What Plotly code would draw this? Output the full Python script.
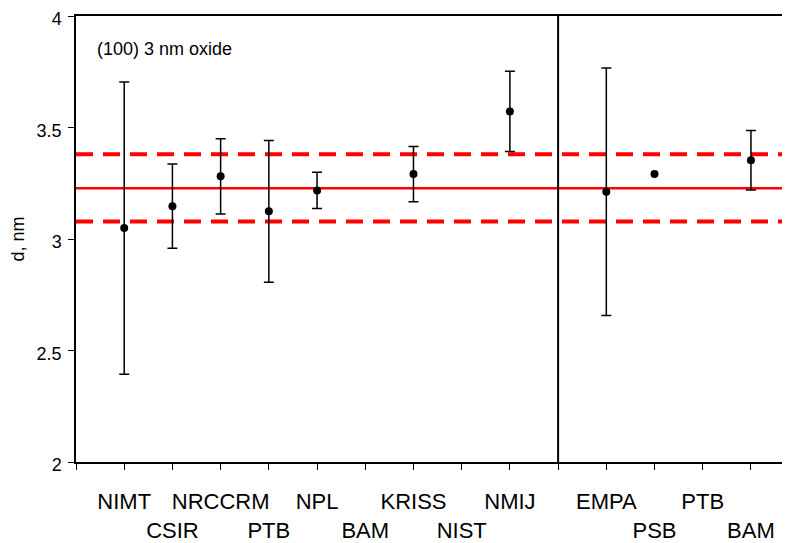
import plotly.graph_objects as go

# ---- data ----
labs = ["NIMT", "CSIR", "NRCCRM", "PTB", "NPL", "BAM", "KRISS", "NIST", "NMIJ",
        "EMPA", "PSB", "PTB", "BAM"]
lab_pos = [1, 2, 3, 4, 5, 6, 7, 8, 9, 11, 12, 13, 14]
lab_row = [1, 2, 1, 2, 1, 2, 1, 2, 1, 1, 2, 1, 2]

pt_pos = [1, 2, 3, 4, 5, 7, 9, 11, 12, 14]
d_vals = [3.049, 3.147, 3.281, 3.124, 3.218, 3.291, 3.572, 3.212, 3.291, 3.353]
d_err = [0.655, 0.189, 0.169, 0.318, 0.081, 0.124, 0.180, 0.555, None, 0.133]

ref_mean = 3.228
ref_upper = 3.380
ref_lower = 3.079
divider_pos = 10

y_ticks = [2, 2.5, 3, 3.5, 4]
y_tick_text = ["2", "2.5", "3", "3.5", "4"]
note_text = "(100) 3 nm oxide"
y_title = "d, nm"

FONT = "Liberation Sans, Arial, sans-serif"

tickvals = list(range(0, 15))
ticktext = []
for v in tickvals:
    if v in lab_pos:
        i = lab_pos.index(v)
        ticktext.append(labs[i] + "<br> " if lab_row[i] == 1 else " <br>" + labs[i])
    else:
        ticktext.append("")

fig = go.Figure()

# reference lines
for yv, dash, w in [(ref_upper, "17px,10px", 4), (ref_lower, "17px,10px", 4), (ref_mean, "solid", 2.5)]:
    fig.add_shape(type="line", xref="x domain", yref="y", x0=0, x1=1, y0=yv, y1=yv,
                  line=dict(color="#ff0000", width=w, dash=dash), layer="below")

fig.add_shape(type="line", xref="x", yref="y domain", x0=divider_pos, x1=divider_pos, y0=0, y1=1,
              line=dict(color="black", width=2))

# points with error bars
xe = [p for p, e in zip(pt_pos, d_err) if e is not None]
ye = [v for v, e in zip(d_vals, d_err) if e is not None]
ee = [e for e in d_err if e is not None]
fig.add_trace(go.Scatter(
    x=xe, y=ye, mode="markers",
    marker=dict(color="black", size=8),
    error_y=dict(type="data", array=ee, visible=True, color="black", thickness=1.5, width=5),
    showlegend=False,
))
# points without error bars
xn = [p for p, e in zip(pt_pos, d_err) if e is None]
yn = [v for v, e in zip(d_vals, d_err) if e is None]
fig.add_trace(go.Scatter(
    x=xn, y=yn, mode="markers",
    marker=dict(color="black", size=8),
    showlegend=False,
))

fig.add_annotation(text=note_text, xref="paper", yref="paper", x=0.027, y=0.925,
                   xanchor="left", yanchor="middle", showarrow=False,
                   font=dict(family=FONT, size=18, color="black"))

fig.update_layout(
    width=782, height=535,
    margin=dict(l=68, r=0, t=8, b=81, autoexpand=False),
    paper_bgcolor="white", plot_bgcolor="white",
    font=dict(family=FONT, color="black"),
    xaxis=dict(range=[0, 14.81], tickvals=tickvals, ticktext=ticktext,
               ticks="outside", ticklen=6, tickwidth=1, tickcolor="black",
               showline=True, linecolor="black", linewidth=1.5, mirror=True,
               showgrid=False, zeroline=False, tickangle=0, automargin=False,
               tickfont=dict(family=FONT, size=22, color="black"),
               ticklabelstandoff=13, ticklabeloverflow="allow"),
    yaxis=dict(range=[2, 4], tickvals=y_ticks, ticktext=y_tick_text,
               ticks="outside", ticklen=6, tickwidth=1, tickcolor="black",
               showline=True, linecolor="black", linewidth=1.5, mirror=False,
               showgrid=False, zeroline=False, automargin=False,
               tickfont=dict(family=FONT, size=18, color="black"),
               ticklabelstandoff=3, ticklabelshift=3, ticklabeloverflow="allow",
               title=dict(text=y_title, font=dict(family=FONT, size=18, color="black"), standoff=12)),
)

fig.write_html("out.html")
